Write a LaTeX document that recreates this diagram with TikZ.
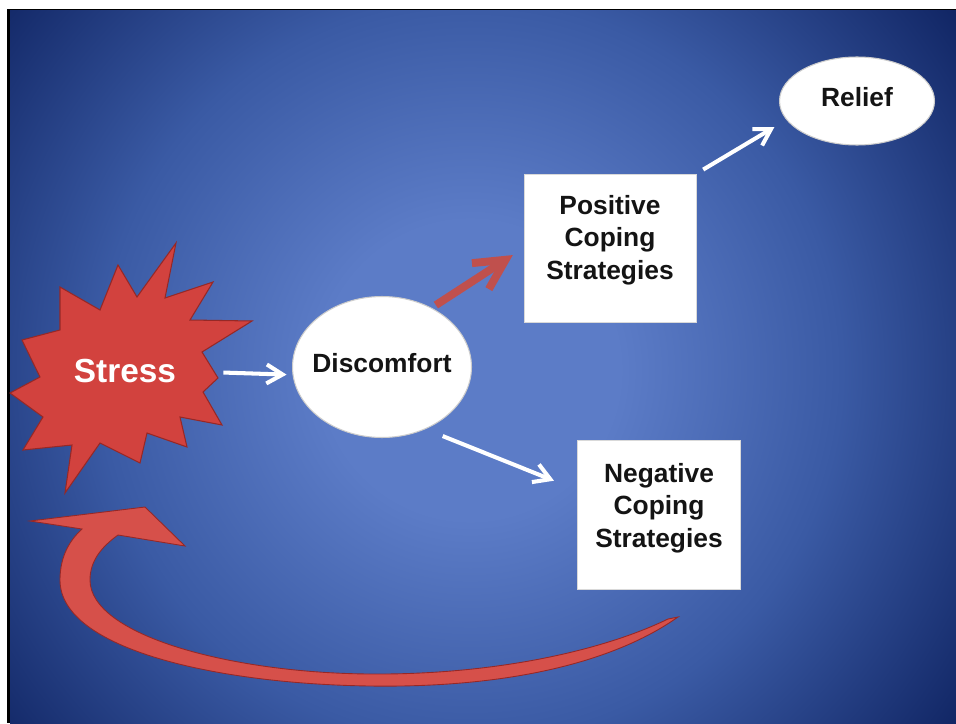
\documentclass[tikz,border=0pt]{standalone}
\usepackage{fontspec}
\setmainfont{Liberation Sans}
\usepackage{tikz}
\usetikzlibrary{arrows.meta,positioning,shapes.geometric}
\definecolor{bgLight}{RGB}{92,124,199}
\definecolor{bgMid}{RGB}{58,90,164}
\definecolor{bgDark}{RGB}{14,34,96}
\definecolor{starRed}{RGB}{210,66,62}
\definecolor{starEdge}{RGB}{150,40,38}
\definecolor{loopRed}{RGB}{214,80,74}
\definecolor{arrowRed}{RGB}{192,80,77}
\definecolor{boxText}{RGB}{20,20,20}
\pgfdeclareradialshading{bgglow}{\pgfpoint{0bp}{0bp}}{color(0bp)=(bgLight); color(6bp)=(bgLight); color(15bp)=(bgMid); color(25bp)=(bgDark); color(50bp)=(bgDark)}

\begin{document}
\begin{tikzpicture}[x=0.02cm, y=-0.02cm,
    nodetext/.style={font=\fontsize{15}{18.5}\selectfont\bfseries, text=boxText, align=center},
    bubble/.style={ellipse, fill=white, draw=gray!40, line width=0.6pt, inner sep=0pt},
    card/.style={rectangle, fill=white, draw=gray!30, line width=0.4pt, inner sep=0pt},
    whitearr/.style={white, line width=2.3pt, -{Straight Barb[length=0.32cm, width=0.38cm]}},
    redarr/.style={arrowRed, line width=4.5pt, -{Straight Barb[length=0.6cm, width=0.62cm]}}]

    % Frame and glowing background
    \useasboundingbox (0,0) rectangle (956,723);
    \fill[white] (0,0) rectangle (956,723);
    \fill[black] (7,9) rectangle (956,723);
    \begin{scope}
      \clip (10,11) rectangle (956,723);
      \fill[bgDark] (10,11) rectangle (956,723);
      \shade[shading=bgglow] (470,370) circle (12.4cm);
    \end{scope}

    % Stress burst
    \fill[starRed, draw=starEdge, line width=0.6pt, line join=miter]
      (176,243) -- (165,298) -- (213,282) -- (190,320) -- (252,321) -- (202,352)
      -- (218,378) -- (203,392) -- (222,425) -- (180,417) -- (187,447) -- (147,433)
      -- (140,463) -- (100,443) -- (65,493) -- (72,445) -- (23,450) -- (43,417)
      -- (10,393) -- (40,377) -- (22,340) -- (60,330) -- (60,287) -- (100,310)
      -- (118,265) -- (137,297) -- cycle;
    \node[font=\fontsize{19}{22}\selectfont\bfseries, text=white, inner sep=0pt] (stress) at (125,371) {Stress};

    % Discomfort, the two coping boxes, relief
    \node[bubble, minimum width=3.58cm, minimum height=2.82cm,
      label={[nodetext, yshift=0.08cm]center:Discomfort}] (disc) at (382,367) {};
    \node[card, minimum width=3.44cm, minimum height=2.96cm,
      label={[nodetext, yshift=0.16cm]center:Positive\\Coping\\Strategies}] (pos) at (610,248) {};
    \node[card, minimum width=3.26cm, minimum height=2.98cm,
      label={[nodetext, yshift=0.14cm]center:Negative\\Coping\\Strategies}] (neg) at (659,515) {};
    \node[bubble, minimum width=3.1cm, minimum height=1.76cm,
      label={[nodetext, yshift=0.08cm]center:Relief}] (relief) at (857,101) {};

    % Arrows
    \draw[whitearr, shorten <=0.94cm, shorten >=0.12cm] (stress.east) -- (disc.185);
    \draw[redarr, shorten <=0.1cm, shorten >=0.26cm] (disc.50) -- (pos.west);
    \draw[whitearr, shorten <=0.37cm, shorten >=0.5cm] (disc.-55) -- ([yshift=0.5cm]neg.west);
    \draw[whitearr, shorten <=0.16cm, shorten >=0.28cm] (pos.north east) -- (relief.195);

    % Loop back from negative coping to stress
    \fill[loopRed, draw=starEdge, line width=0.5pt, line join=miter]
      (678,617) .. controls (610,665) and (500,688) .. (370,686)
      .. controls (220,684) and (60,650) .. (60,580)
      .. controls (60,556) and (70,540) .. (82,529)
      -- (30,521) -- (145,507) -- (185,546) -- (118,535)
      .. controls (100,548) and (90,562) .. (90,580)
      .. controls (90,635) and (230,673) .. (370,674)
      .. controls (490,675) and (600,652) .. (668,619) -- cycle;
\end{tikzpicture}
\end{document}
